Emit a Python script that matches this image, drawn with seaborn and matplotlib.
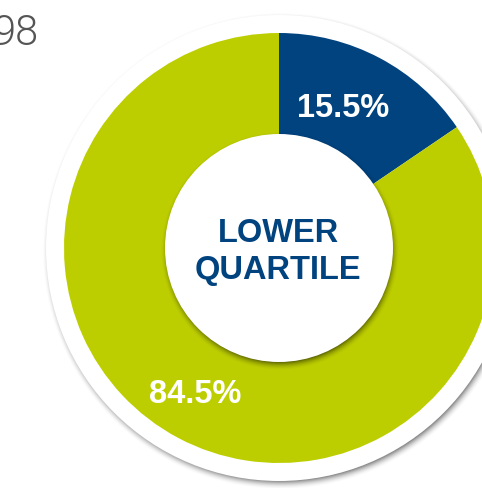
import numpy as np
import matplotlib
matplotlib.use("Agg")
import matplotlib.pyplot as plt
from matplotlib.patches import Circle
import seaborn as sns

# Data
segments = ["Lower quartile", "Rest"]
shares = [15.5, 84.5]
segment_colors = ["#00437F", "#BDCE00"]
centre_title = ["LOWER", "QUARTILE"]
year_fragment = "98"

sns.set_theme(style="white")
plt.rcParams["font.family"] = ["Liberation Sans", "DejaVu Sans"]

W, H = 482, 488
fig = plt.figure(figsize=(W / 100, H / 100), dpi=100)
ax = fig.add_axes([0, 0, 1, 1])

cx, cy = 279, 240          # donut centre (pixels, y up)
r_out = 215                # outer radius of coloured ring
r_in = 114                 # radius of central white disc
r_rim = 233                # white rim around the ring

yy, xx = np.mgrid[0:H, 0:W] + 0.5


def soft_shadow(ox, oy, radius, blur, strength):
    d = np.hypot(xx - ox, yy - oy)
    t = np.clip((d - radius) / blur, 0, 1)
    alpha = strength * (1 - t) ** 2
    img = np.zeros((H, W, 4))
    img[..., 3] = alpha
    return img


# drop shadow of the outer white rim
ax.imshow(soft_shadow(cx + 2, cy - 3, r_rim - 3, 9, 0.45), origin="lower",
          extent=(0, W, 0, H), zorder=1, interpolation="bilinear")
ax.add_patch(Circle((cx, cy), r_rim, facecolor="white", edgecolor="none", zorder=2))

wedges, _ = ax.pie(shares, colors=segment_colors, startangle=90, counterclock=False,
                   center=(cx, cy), radius=r_out,
                   wedgeprops=dict(linewidth=0, edgecolor="none"))
for w in wedges:
    w.set_zorder(3)

# shadow cast by the central disc onto the ring
ax.imshow(soft_shadow(cx + 1, cy - 3, r_in - 3, 9, 0.5), origin="lower",
          extent=(0, W, 0, H), zorder=4, interpolation="bilinear")
ax.add_patch(Circle((cx, cy), r_in, facecolor="white", edgecolor="none", zorder=5))

# value labels on the segments
label_pos = [(343.5, 371), (195.5, 85)]
for v, (x, y) in zip(shares, label_pos):
    ax.text(x, y, f"{v}%", color="white", fontsize=23.5, fontweight="bold",
            ha="center", va="baseline", zorder=6)

# centre title
for line, y in zip(centre_title, [246, 209]):
    ax.text(cx - 1, y, line, color=segment_colors[0], fontsize=23.5, fontweight="bold",
            ha="center", va="baseline", zorder=6)

ax.text(-7, 443, year_fragment, color="#555555", fontsize=30, fontweight=300,
        family=["Roboto", "DejaVu Sans"], ha="left", va="baseline", zorder=6)

ax.set_xlim(0, W)
ax.set_ylim(0, H)
ax.set_aspect("equal")
ax.axis("off")
fig.savefig("out.png", dpi=100, facecolor="white")
